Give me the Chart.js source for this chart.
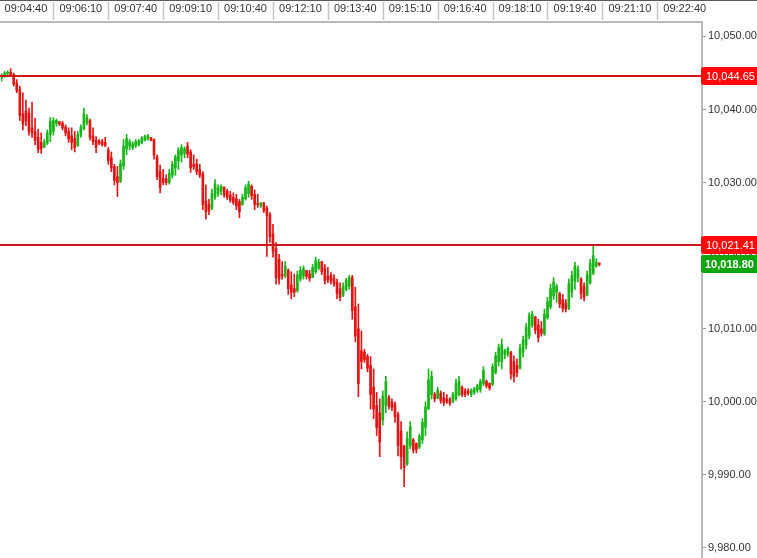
<!DOCTYPE html>
<html>
<head>
<meta charset="utf-8">
<title>Intraday OHLC</title>
<script src="https://cdn.jsdelivr.net/npm/chart.js@4/dist/chart.umd.min.js"></script>
<style>
  html, body { margin: 0; padding: 0; background: #fff; }
  #wrap { width: 757px; height: 558px; }
  canvas { display: block; }
</style>
</head>
<body>
<div id="wrap"><canvas id="c" width="757" height="558"></canvas></div>
<script>
// =======================
// Data (5-second bars)
const barStart = '09:04:00';
const barSeconds = 5;

const opens = [
  10044.3, 10044.6, 10044.9, 10045.1, 10044.8, 10043.6, 10042.7, 10039.4, 10039.8, 10039.5,
  10037.5, 10037.0, 10036.2, 10035.5, 10034.8, 10035.4, 10036.6, 10037.0, 10038.1, 10038.3,
  10038.1, 10037.6, 10037.0, 10036.4, 10036.0, 10035.0, 10036.5, 10037.4, 10038.2, 10038.5,
  10036.4, 10035.8, 10035.7, 10035.6, 10035.5, 10034.5, 10033.4, 10032.2, 10030.8, 10030.2,
  10032.3, 10034.6, 10035.0, 10034.8, 10035.0, 10035.2, 10035.5, 10035.8, 10036.0, 10036.2,
  10035.9, 10033.5, 10031.5, 10030.6, 10030.5, 10030.0, 10031.0, 10032.0, 10033.0, 10033.8,
  10034.0, 10035.0, 10034.2, 10032.5, 10032.6, 10031.8, 10031.2, 10027.5, 10027.0, 10026.5,
  10028.0, 10028.5, 10028.8, 10029.4, 10028.8, 10028.3, 10028.0, 10027.8, 10027.4, 10027.0,
  10027.8, 10028.5, 10029.5, 10028.4, 10027.2, 10026.8, 10027.2, 10026.5, 10025.6, 10023.0,
  10021.0, 10019.5, 10017.5, 10017.2, 10018.0, 10016.0, 10015.5, 10015.2, 10016.8, 10017.2,
  10018.0, 10017.5, 10017.0, 10017.8, 10018.3, 10019.2, 10018.3, 10017.2, 10017.3, 10016.9,
  10016.4, 10015.5, 10014.6, 10015.4, 10015.8, 10017.0, 10013.0, 10010.0, 10007.0, 10006.8,
  10006.2, 10005.0, 10002.0, 9999.5, 9998.5, 9997.5, 9999.5, 10000.6, 10000.0, 9999.6,
  9998.3, 9996.0, 9994.0, 9991.5, 9994.0, 9994.8, 9994.3, 9993.8, 9994.8, 9996.5,
  9999.0, 10001.0, 10001.0, 10000.5, 10001.2, 10000.6, 10000.4, 10000.3, 10000.0, 10000.4,
  10001.0, 10002.0, 10001.5, 10001.5, 10001.0, 10001.3, 10001.6, 10001.7, 10002.5, 10002.8,
  10002.5, 10002.4, 10004.0, 10005.5, 10005.5, 10006.5, 10006.5, 10006.8, 10005.5, 10005.0,
  10004.6, 10006.8, 10007.8, 10009.0, 10010.5, 10011.6, 10010.5, 10010.0, 10009.3, 10011.5,
  10013.0, 10014.5, 10015.0, 10014.8, 10014.0, 10013.5, 10012.8, 10015.0, 10016.5, 10017.0,
  10016.8, 10015.8, 10014.6, 10016.3, 10017.6, 10018.6, 10019.0
];
const highs = [
  10044.9, 10045.2, 10045.3, 10045.6, 10045.0, 10044.1, 10043.2, 10042.3, 10041.3, 10040.2,
  10041.0, 10038.8, 10037.3, 10036.8, 10035.9, 10037.2, 10038.9, 10038.9, 10038.7, 10038.4,
  10038.4, 10037.9, 10037.5, 10037.5, 10037.0, 10037.0, 10037.9, 10040.2, 10039.3, 10038.7,
  10037.5, 10036.3, 10035.9, 10035.9, 10036.2, 10034.8, 10034.2, 10032.5, 10032.2, 10033.1,
  10035.9, 10036.6, 10035.9, 10035.6, 10035.9, 10035.9, 10036.3, 10036.5, 10036.6, 10036.2,
  10036.0, 10033.8, 10032.4, 10031.8, 10031.1, 10031.8, 10032.9, 10033.8, 10034.8, 10035.2,
  10034.9, 10035.5, 10034.5, 10033.8, 10033.2, 10032.5, 10031.5, 10029.7, 10027.7, 10029.1,
  10030.4, 10029.7, 10029.7, 10029.4, 10029.1, 10028.8, 10028.6, 10028.4, 10027.7, 10028.4,
  10029.7, 10030.2, 10029.7, 10029.0, 10028.4, 10027.3, 10027.3, 10026.8, 10025.9, 10024.3,
  10021.8, 10020.2, 10019.2, 10019.2, 10018.2, 10017.8, 10017.5, 10017.9, 10018.5, 10018.6,
  10018.0, 10018.0, 10018.8, 10019.8, 10019.5, 10019.2, 10018.8, 10018.4, 10017.7, 10017.4,
  10016.8, 10016.3, 10016.3, 10016.9, 10017.3, 10017.3, 10015.7, 10013.4, 10009.7, 10007.2,
  10006.5, 10006.2, 10004.5, 10001.3, 10000.4, 10001.5, 10003.5, 10000.9, 10000.4, 10000.0,
  9998.6, 9997.3, 9994.0, 9995.9, 9997.3, 9995.0, 9994.4, 9995.6, 9997.7, 10000.0,
  10004.5, 10004.2, 10001.3, 10002.0, 10001.5, 10001.3, 10001.0, 10000.6, 10001.3, 10003.1,
  10003.5, 10002.2, 10001.8, 10001.8, 10001.8, 10002.0, 10002.4, 10003.1, 10004.8, 10003.0,
  10002.6, 10005.2, 10006.8, 10007.9, 10008.6, 10007.2, 10007.5, 10006.9, 10006.3, 10005.9,
  10007.9, 10009.0, 10010.7, 10012.2, 10012.4, 10011.7, 10011.3, 10011.0, 10012.7, 10014.3,
  10016.1, 10017.0, 10016.1, 10015.0, 10014.7, 10014.0, 10016.8, 10017.9, 10019.1, 10018.6,
  10017.0, 10016.3, 10017.9, 10019.5, 10021.5, 10019.6, 10019.0
];
const lows = [
  10043.9, 10044.4, 10044.6, 10044.5, 10043.2, 10042.3, 10038.5, 10037.2, 10037.8, 10036.5,
  10036.2, 10035.2, 10034.1, 10034.0, 10034.8, 10035.2, 10035.6, 10036.5, 10037.7, 10037.8,
  10037.2, 10036.4, 10035.5, 10034.5, 10034.2, 10035.0, 10036.2, 10037.2, 10037.9, 10035.8,
  10035.2, 10034.1, 10035.2, 10035.0, 10034.9, 10032.5, 10031.5, 10029.7, 10028.1, 10030.0,
  10031.8, 10033.8, 10034.5, 10034.5, 10034.8, 10035.0, 10035.3, 10035.7, 10035.8, 10035.7,
  10033.2, 10030.4, 10028.6, 10029.7, 10029.7, 10029.8, 10030.6, 10031.0, 10031.8, 10032.8,
  10033.4, 10033.4, 10031.4, 10031.8, 10031.1, 10030.7, 10026.3, 10025.0, 10025.6, 10026.3,
  10027.7, 10028.1, 10028.3, 10028.0, 10027.7, 10027.3, 10027.0, 10026.3, 10025.2, 10026.9,
  10027.6, 10028.0, 10027.7, 10026.3, 10026.6, 10026.6, 10025.9, 10019.9, 10021.8, 10019.8,
  10016.1, 10016.1, 10016.8, 10017.0, 10014.7, 10014.1, 10014.4, 10015.0, 10016.5, 10016.8,
  10016.8, 10016.5, 10017.0, 10017.6, 10018.1, 10017.4, 10016.1, 10016.3, 10016.1, 10015.8,
  10014.1, 10013.8, 10014.4, 10015.2, 10015.4, 10011.3, 10008.2, 10000.7, 10004.5, 10005.4,
  10004.1, 9999.0, 9997.7, 9995.4, 9992.5, 9996.8, 9998.5, 9999.0, 9998.8, 9997.2,
  9992.6, 9990.8, 9988.4, 9991.3, 9993.6, 9993.0, 9993.0, 9993.6, 9994.3, 9995.4,
  9999.0, 10000.4, 10000.0, 10000.4, 9999.8, 9999.5, 9999.8, 9999.5, 9999.9, 10000.2,
  10000.8, 10000.7, 10000.7, 10000.9, 10000.7, 10001.0, 10001.3, 10001.3, 10002.2, 10001.9,
  10001.6, 10002.2, 10003.8, 10004.9, 10004.5, 10005.9, 10006.2, 10003.1, 10002.7, 10003.4,
  10004.5, 10006.1, 10007.2, 10008.6, 10010.2, 10009.3, 10008.2, 10009.0, 10009.1, 10011.3,
  10012.7, 10014.0, 10013.6, 10012.9, 10012.3, 10012.3, 10012.6, 10014.3, 10015.4, 10016.4,
  10014.1, 10013.8, 10014.5, 10016.1, 10017.4, 10018.4, 10018.6
];
const closes = [
  10044.7, 10045.0, 10045.1, 10044.7, 10043.5, 10042.6, 10039.2, 10038.0, 10038.4, 10037.0,
  10036.8, 10035.8, 10034.6, 10034.6, 10035.6, 10036.8, 10038.4, 10038.5, 10038.5, 10038.0,
  10037.5, 10036.8, 10036.0, 10035.5, 10034.8, 10036.6, 10037.6, 10039.4, 10038.9, 10036.2,
  10035.6, 10034.8, 10035.3, 10035.2, 10035.1, 10033.0, 10032.0, 10030.3, 10030.0, 10032.6,
  10035.0, 10036.0, 10035.6, 10035.3, 10035.6, 10035.7, 10036.1, 10036.3, 10036.4, 10035.8,
  10033.8, 10030.8, 10029.3, 10030.0, 10030.0, 10031.3, 10032.5, 10033.5, 10034.4, 10034.8,
  10034.6, 10033.9, 10032.0, 10032.2, 10031.5, 10031.0, 10027.0, 10026.0, 10026.2, 10028.5,
  10029.8, 10029.3, 10029.5, 10028.3, 10028.0, 10027.6, 10027.3, 10026.8, 10026.0, 10028.0,
  10029.3, 10029.8, 10028.2, 10027.0, 10027.0, 10027.2, 10026.2, 10025.5, 10022.6, 10020.6,
  10017.0, 10016.8, 10017.2, 10018.6, 10015.5, 10015.0, 10015.0, 10017.4, 10018.0, 10018.2,
  10017.2, 10016.9, 10018.4, 10019.3, 10019.1, 10017.8, 10016.6, 10016.7, 10016.5, 10016.2,
  10014.8, 10014.3, 10015.8, 10016.6, 10017.0, 10012.5, 10009.0, 10002.5, 10005.5, 10005.8,
  10004.6, 10001.0, 9999.0, 9996.5, 9994.5, 10000.8, 10002.8, 9999.4, 9999.2, 9998.0,
  9994.0, 9992.5, 9991.0, 9995.0, 9996.6, 9993.4, 9993.5, 9995.3, 9997.2, 9999.3,
  10003.0, 10003.5, 10000.4, 10001.6, 10000.2, 9999.9, 10000.0, 9999.8, 10001.0, 10002.5,
  10002.8, 10001.0, 10001.0, 10001.2, 10001.6, 10001.8, 10002.2, 10002.8, 10004.3, 10002.2,
  10001.9, 10004.8, 10006.3, 10007.4, 10007.8, 10007.0, 10007.3, 10003.8, 10003.5, 10004.0,
  10007.4, 10008.5, 10010.2, 10011.8, 10012.0, 10009.8, 10008.8, 10009.4, 10012.0, 10013.7,
  10015.5, 10016.4, 10015.8, 10013.4, 10012.8, 10012.7, 10016.2, 10017.3, 10018.6, 10018.2,
  10014.8, 10014.3, 10017.4, 10019.0, 10020.0, 10019.1, 10018.8
];

// time axis labels (top) and price axis ticks (right)
const timeTicks = ['09:04:40', '09:06:10', '09:07:40', '09:09:10', '09:10:40', '09:12:10', '09:13:40',
  '09:15:10', '09:16:40', '09:18:10', '09:19:40', '09:21:10', '09:22:40'];
const priceTicks = [9980, 9990, 10000, 10010, 10020, 10030, 10040, 10050];

// horizontal levels
const levels = [10044.65, 10021.41];

// =======================
// Helpers
function toSec(s) {
  const p = s.split(':').map(Number);
  return p[0] * 3600 + p[1] * 60 + p[2];
}
function fmtTime(v) {
  const h = Math.floor(v / 3600), m = Math.floor((v % 3600) / 60), s = Math.round(v % 60);
  return [h, m, s].map(n => String(n).padStart(2, '0')).join(':');
}
function fmtPrice(v) {
  const parts = v.toFixed(2).split('.');
  parts[0] = parts[0].replace(/\B(?=(\d{3})+(?!\d))/g, ',');
  return parts.join('.');
}

const GREEN = '#19b519';
const RED = '#e31414';

const t0 = toSec(barStart);
const wicks = [], bodies = [];
for (let i = 0; i < opens.length; i++) {
  const x = t0 + i * barSeconds;
  wicks.push({ x: x, y: [lows[i], highs[i]] });
  bodies.push({ x: x, y: [opens[i], closes[i]] });
}
const barColor = ctx => closes[ctx.dataIndex] >= opens[ctx.dataIndex] ? GREEN : RED;

// axis window (seconds / price) matching the picture
const xMin = toSec('09:03:57') + 0.5;
const xMax = toSec('09:23:08') + 0.3;
const yMin = 9978.63;
const yMax = 10051.98;

// =======================
// Overlay: top band separators, level lines, price boxes
const overlay = {
  id: 'overlay',
  beforeDraw(chart) {
    const c = chart.ctx;
    c.save();
    c.fillStyle = '#fff';
    c.fillRect(0, 0, chart.width, chart.height);
    c.restore();
  },
  afterDraw(chart) {
    const c = chart.ctx, xs = chart.scales.x, ys = chart.scales.y, area = chart.chartArea;
    c.save();
    // no frame on the left edge
    c.fillStyle = '#fff';
    c.fillRect(0, 23, 1, chart.height);
    // top border
    c.fillStyle = '#5a5a5a';
    c.fillRect(0, 0, chart.width, 1);
    // separators between time labels
    c.strokeStyle = '#c4c4c4';
    c.lineWidth = 1.5;
    timeTicks.forEach(t => {
      const px = Math.round(xs.getPixelForValue(toSec(t) + 45)) + 0.5;
      if (px < 1 || px > area.right) return;
      c.beginPath();
      c.moveTo(px, 2);
      c.lineTo(px, 20);
      c.stroke();
    });
    // level lines
    c.fillStyle = '#cc1a1a';
    levels.forEach(v => {
      const py = Math.round(ys.getPixelForValue(v));
      c.fillRect(0, py - 1, area.right, 2);
    });
    // boxes
    const box = (v, fill, bold) => {
      const py = ys.getPixelForValue(v);
      const bx = area.right - 1, by = Math.round(py - 9), bw = 70, bh = 18, r = 3;
      c.fillStyle = fill;
      c.beginPath();
      c.moveTo(bx + r, by);
      c.lineTo(bx + bw, by);
      c.lineTo(bx + bw, by + bh);
      c.lineTo(bx + r, by + bh);
      c.quadraticCurveTo(bx, by + bh, bx, by + bh - r);
      c.lineTo(bx, by + r);
      c.quadraticCurveTo(bx, by, bx + r, by);
      c.fill();
      c.fillStyle = '#fff';
      c.font = (bold ? 'bold ' : '') + '11px "Liberation Sans", Arial, sans-serif';
      c.textBaseline = 'middle';
      c.textAlign = 'left';
      c.fillText(fmtPrice(v), bx + (bold ? 4 : 5), by + bh / 2 + 0.5);
    };
    levels.forEach(v => box(v, '#ff0a0a', false));
    box(closes[closes.length - 1], '#0ea50e', true);
    c.restore();
  }
};

// =======================
// Chart
new Chart(document.getElementById('c').getContext('2d'), {
  type: 'bar',
  data: {
    datasets: [
      { label: 'High-Low', data: wicks, backgroundColor: barColor, barThickness: 1, grouped: false, order: 2 },
      { label: 'Open-Close', data: bodies, backgroundColor: barColor, barThickness: 2, grouped: false, order: 1 }
    ]
  },
  options: {
    responsive: false,
    animation: false,
    devicePixelRatio: 1,
    layout: { padding: 0 },
    plugins: { legend: { display: false }, tooltip: { enabled: false } },
    scales: {
      x: {
        type: 'linear',
        position: 'top',
        min: xMin,
        max: xMax,
        offset: false,
        grid: { display: false, drawTicks: false },
        border: { display: true, color: '#b9b9b9', width: 2 },
        ticks: {
          color: '#333',
          font: { family: '"Liberation Sans", Arial, sans-serif', size: 11 },
          padding: 6,
          maxRotation: 0,
          autoSkip: false,
          callback: v => fmtTime(v)
        },
        afterBuildTicks: s => { s.ticks = timeTicks.map(t => ({ value: toSec(t) })); },
        afterFit: s => { s.height = 22; s.paddingLeft = 0; s.paddingRight = 0; }
      },
      y: {
        type: 'linear',
        position: 'right',
        min: yMin,
        max: yMax,
        grid: { display: true, drawOnChartArea: false, drawTicks: true, tickLength: 4, color: '#9a9a9a' },
        border: { display: true, color: '#b9b9b9', width: 2 },
        ticks: {
          color: '#333',
          font: { family: '"Liberation Sans", Arial, sans-serif', size: 11 },
          padding: 2,
          callback: v => fmtPrice(v)
        },
        afterBuildTicks: s => { s.ticks = priceTicks.map(v => ({ value: v })); },
        afterFit: s => { s.width = 55; s.paddingTop = 0; s.paddingBottom = 0; }
      }
    }
  },
  plugins: [overlay]
});
</script>
</body>
</html>
